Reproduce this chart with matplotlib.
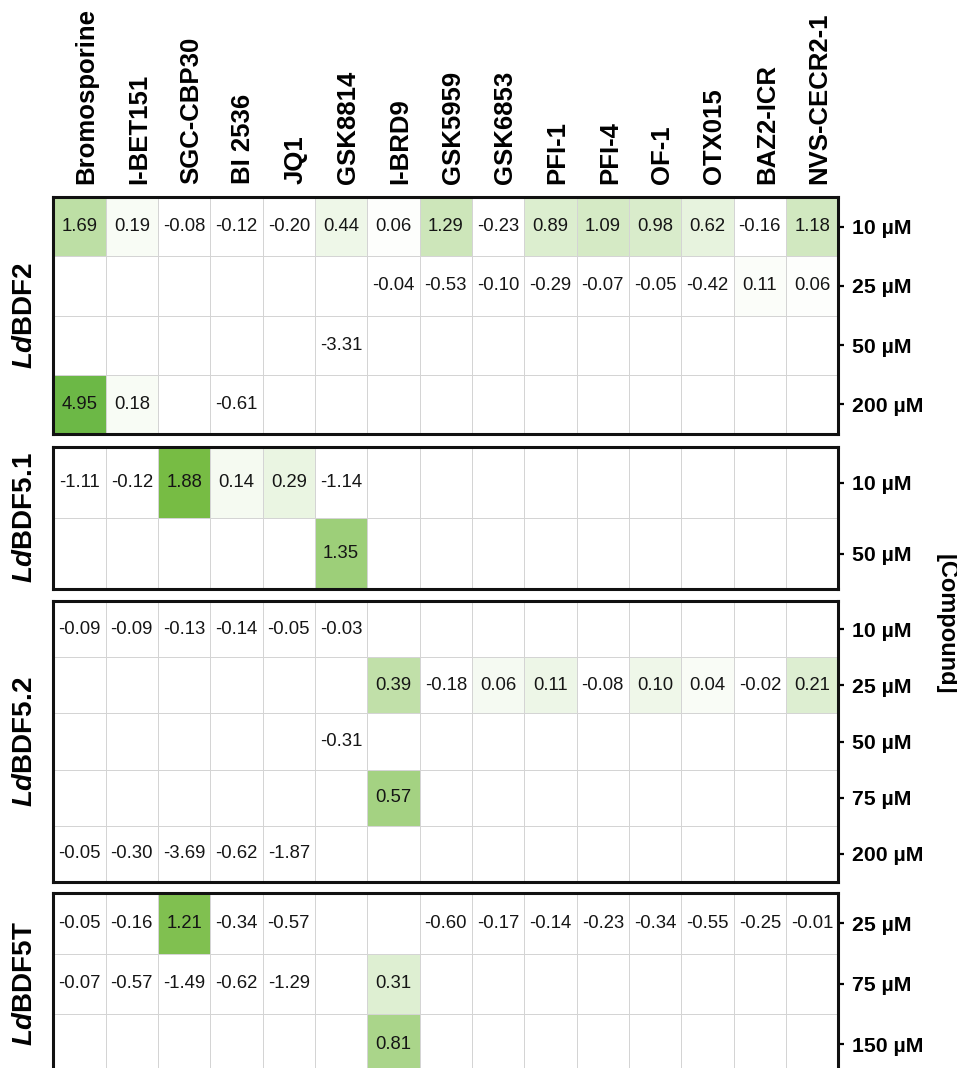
import numpy as np
import matplotlib
matplotlib.use("Agg")
import matplotlib.pyplot as plt
from matplotlib.colors import LinearSegmentedColormap, Normalize
from matplotlib.transforms import ScaledTranslation, blended_transform_factory

plt.rcParams["font.family"] = ["Liberation Sans", "DejaVu Sans"]
plt.rcParams["mathtext.fontset"] = "custom"
plt.rcParams["mathtext.it"] = "Liberation Sans:italic:bold"
plt.rcParams["mathtext.rm"] = "Liberation Sans:bold"
plt.rcParams["mathtext.bf"] = "Liberation Sans:bold"

compounds = ["Bromosporine", "I-BET151", "SGC-CBP30", "BI 2536", "JQ1", "GSK8814",
             "I-BRD9", "GSK5959", "GSK6853", "PFI-1", "PFI-4", "OF-1", "OTX015",
             "BAZ2-ICR", "NVS-CECR2-1"]

N = None

# LdBDF2
bdf2_conc = ["10 µM", "25 µM", "50 µM", "200 µM"]
bdf2_10 = [1.69, 0.19, -0.08, -0.12, -0.20, 0.44, 0.06, 1.29, -0.23, 0.89, 1.09, 0.98, 0.62, -0.16, 1.18]
bdf2_25 = [N, N, N, N, N, N, -0.04, -0.53, -0.10, -0.29, -0.07, -0.05, -0.42, 0.11, 0.06]
bdf2_50 = [N, N, N, N, N, -3.31, N, N, N, N, N, N, N, N, N]
bdf2_200 = [4.95, 0.18, N, -0.61, N, N, N, N, N, N, N, N, N, N, N]

# LdBDF5.1
bdf51_conc = ["10 µM", "50 µM"]
bdf51_10 = [-1.11, -0.12, 1.88, 0.14, 0.29, -1.14, N, N, N, N, N, N, N, N, N]
bdf51_50 = [N, N, N, N, N, 1.35, N, N, N, N, N, N, N, N, N]

# LdBDF5.2
bdf52_conc = ["10 µM", "25 µM", "50 µM", "75 µM", "200 µM"]
bdf52_10 = [-0.09, -0.09, -0.13, -0.14, -0.05, -0.03, N, N, N, N, N, N, N, N, N]
bdf52_25 = [N, N, N, N, N, N, 0.39, -0.18, 0.06, 0.11, -0.08, 0.10, 0.04, -0.02, 0.21]
bdf52_50 = [N, N, N, N, N, -0.31, N, N, N, N, N, N, N, N, N]
bdf52_75 = [N, N, N, N, N, N, 0.57, N, N, N, N, N, N, N, N]
bdf52_200 = [-0.05, -0.30, -3.69, -0.62, -1.87, N, N, N, N, N, N, N, N, N, N]

# LdBDF5T
bdf5t_conc = ["25 µM", "75 µM", "150 µM"]
bdf5t_25 = [-0.05, -0.16, 1.21, -0.34, -0.57, N, N, -0.60, -0.17, -0.14, -0.23, -0.34, -0.55, -0.25, -0.01]
bdf5t_75 = [-0.07, -0.57, -1.49, -0.62, -1.29, N, 0.31, N, N, N, N, N, N, N, N]
bdf5t_150 = [N, N, N, N, N, N, 0.81, N, N, N, N, N, N, N, N]

panels = [
    (r"$\mathit{Ld}$BDF2", bdf2_conc, [bdf2_10, bdf2_25, bdf2_50, bdf2_200], 3.5),
    (r"$\mathit{Ld}$BDF5.1", bdf51_conc, [bdf51_10, bdf51_50], 1.88),
    (r"$\mathit{Ld}$BDF5.2", bdf52_conc, [bdf52_10, bdf52_25, bdf52_50, bdf52_75, bdf52_200], 0.85),
    (r"$\mathit{Ld}$BDF5T", bdf5t_conc, [bdf5t_25, bdf5t_75, bdf5t_150], 1.3),
]

W, H = 957, 1068
fig = plt.figure(figsize=(W / 100, H / 100), dpi=100)

# panel boxes in pixels: (top, bottom)
x_left, x_right = 53.3, 838.3
boxes = [(197, 434), (447, 589), (601, 882), (893, 1074.5)]

cmap = LinearSegmentedColormap.from_list("wg", ["#ffffff", "#77bc44"])
cmap.set_under("#ffffff")
cmap.set_over("#6cb846")
cmap.set_bad("#ffffff")

ncol = len(compounds)
for k, ((label, conc, rows, vmax), (top, bot)) in enumerate(zip(panels, boxes)):
    ax = fig.add_axes([x_left / W, (H - bot) / H, (x_right - x_left) / W, (bot - top) / H])
    data = np.array([[np.nan if v is None else v for v in r] for r in rows], dtype=float)
    nrow = data.shape[0]
    ax.pcolormesh(np.arange(ncol + 1), np.arange(nrow + 1), np.ma.masked_invalid(data),
                  cmap=cmap, norm=Normalize(vmin=0.0, vmax=vmax),
                  edgecolors="#d4d4d4", linewidth=0.45)
    ax.set_xlim(0, ncol)
    ax.set_ylim(nrow, 0)
    for i in range(nrow):
        for j in range(ncol):
            v = data[i, j]
            if not np.isnan(v):
                ax.text(j + 0.5, i + 0.5, f"{v:.2f}", ha="center", va="center",
                        fontsize=13.3, color="#151515")
    ax.set_xticks([])
    ax.set_yticks(np.arange(nrow) + 0.5)
    ax.set_yticklabels(conc, fontweight="bold")
    ax.tick_params(axis="y", left=False, labelleft=False, right=True, labelright=True,
                   direction="out", length=4.5, width=1.6, pad=5.5, labelsize=15.3)
    for s in ax.spines.values():
        s.set_linewidth(2.2)
        s.set_color("#111111")
    fig.text(25 / W, 1 - (top + bot) / 2 / H, label, rotation=90, ha="center", va="center",
             fontsize=20, fontweight="bold")

    if k == 0:
        trans = blended_transform_factory(ax.transData, ax.transAxes) + \
            ScaledTranslation(7 / 100, 13 / 100, fig.dpi_scale_trans)
        for j, name in enumerate(compounds):
            ax.text(j + 0.5, 1.0, name, transform=trans, rotation=90, ha="center",
                    va="bottom", fontsize=18.5, fontweight="bold")

fig.text(946 / W, 1 - 624 / H, "[Compound]", rotation=270, ha="center", va="center",
         fontsize=17, fontweight="bold")

fig.savefig("out.png", dpi=100)
